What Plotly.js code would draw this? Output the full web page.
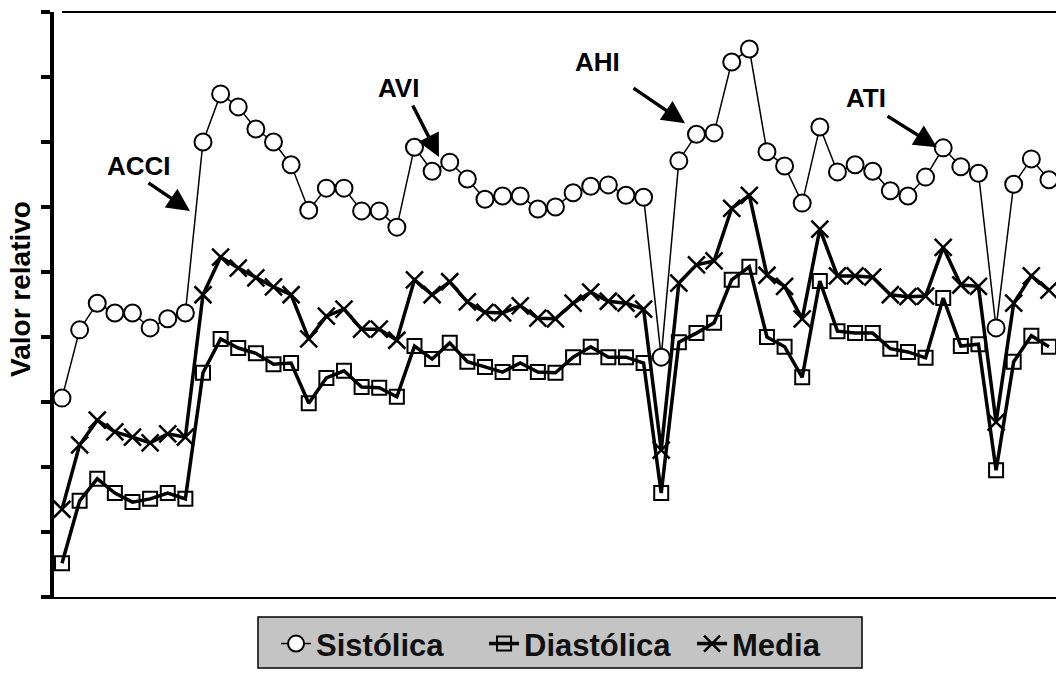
<!DOCTYPE html>
<html>
<head>
<meta charset="utf-8">
<script src="https://cdn.plot.ly/plotly-3.0.1.min.js"></script>
<style>
  html, body { margin: 0; padding: 0; background: #ffffff; }
  #chart { width: 1056px; height: 675px; }
</style>
</head>
<body>
<div id="chart"></div>
<script>
// Relative pressure values per measurement step
const sistolica = [3.06, 4.11, 4.52, 4.37, 4.37, 4.14, 4.28, 4.37, 7.00, 7.74,
  7.54, 7.20, 7.00, 6.65, 5.95, 6.29, 6.29, 5.94, 5.94, 5.69,
  6.92, 6.55, 6.69, 6.43, 6.12, 6.17, 6.17, 5.97, 6.00, 6.22,
  6.32, 6.34, 6.18, 6.15, 3.69, 6.71, 7.12, 7.14, 8.23, 8.43,
  6.85, 6.63, 6.06, 7.23, 6.54, 6.65, 6.55, 6.25, 6.17, 6.46,
  6.91, 6.62, 6.52, 4.14, 6.35, 6.74, 6.42];

const diastolica = [0.52, 1.48, 1.82, 1.60, 1.46, 1.51, 1.60, 1.51, 3.45, 3.97,
  3.83, 3.75, 3.58, 3.60, 2.98, 3.37, 3.48, 3.23, 3.22, 3.08,
  3.86, 3.66, 3.91, 3.62, 3.54, 3.46, 3.60, 3.46, 3.45, 3.69,
  3.85, 3.69, 3.69, 3.60, 1.60, 3.92, 4.06, 4.22, 4.88, 5.08,
  4.00, 3.85, 3.38, 4.86, 4.09, 4.06, 4.06, 3.82, 3.77, 3.68,
  4.60, 3.86, 3.89, 1.95, 3.62, 4.02, 3.85];

const media = [1.35, 2.34, 2.72, 2.54, 2.46, 2.37, 2.51, 2.46, 4.65, 5.23,
  5.06, 4.91, 4.77, 4.65, 3.97, 4.32, 4.43, 4.12, 4.12, 3.95,
  4.88, 4.65, 4.85, 4.54, 4.38, 4.37, 4.48, 4.29, 4.28, 4.52,
  4.69, 4.55, 4.52, 4.43, 2.26, 4.83, 5.11, 5.17, 5.98, 6.18,
  4.95, 4.78, 4.28, 5.66, 4.94, 4.94, 4.92, 4.65, 4.62, 4.63,
  5.38, 4.80, 4.78, 2.69, 4.52, 4.94, 4.72];

const steps = sistolica.map((_, i) => i);

// Event labels with the step/value their arrow points at
const eventLabels = ['ACCI', 'AVI', 'AHI', 'ATI'];
const eventTipX = [7.26, 21.39, 35.35, 49.65];
const eventTipY = [5.94, 6.77, 7.29, 6.92];
const eventTextX = [4.37, 19.12, 30.41, 45.62];
const eventTextY = [6.63, 7.83, 8.23, 7.68];
const arrowDX = [-43, -27, -53, -51];
const arrowDY = [-29, -53, -36, -32];

const baseFont = 'Liberation Sans, Arial, Helvetica, sans-serif';

const traces = [
  {
    x: steps, y: diastolica, name: 'Diastólica', type: 'scatter', mode: 'lines+markers',
    line: { color: '#000', width: 3.5 },
    marker: { symbol: 'square-open', size: 14, color: '#000', line: { width: 2, color: '#000' } },
    cliponaxis: false, legendrank: 2
  },
  {
    x: steps, y: media, name: 'Media', type: 'scatter', mode: 'lines+markers',
    line: { color: '#000', width: 3.5 },
    marker: { symbol: 'x-thin', size: 17, color: '#000', line: { width: 2.5, color: '#000' } },
    cliponaxis: false, legendrank: 3
  },
  {
    x: steps, y: sistolica, name: 'Sistólica', type: 'scatter', mode: 'lines+markers',
    line: { color: '#000', width: 1.5 },
    marker: { symbol: 'circle', size: 17, color: '#fff', line: { width: 2, color: '#000' } },
    cliponaxis: false, legendrank: 1
  }
];

const annotations = [];
eventLabels.forEach((lab, k) => {
  annotations.push({
    x: eventTipX[k], y: eventTipY[k], xref: 'x', yref: 'y', text: '',
    showarrow: true, arrowhead: 2, arrowsize: 1.3, arrowwidth: 3.5, arrowcolor: '#000',
    ax: arrowDX[k], ay: arrowDY[k], standoff: 0
  });
  annotations.push({
    x: eventTextX[k], y: eventTextY[k], xref: 'x', yref: 'y', text: lab,
    showarrow: false, xanchor: 'center', yanchor: 'middle',
    font: { family: baseFont, size: 26, weight: 'bold', color: '#000' }
  });
});
annotations.push({
  x: 0, xref: 'paper', xshift: -33, y: 4.74, yref: 'y', text: 'Valor relativo',
  textangle: -90, showarrow: false, xanchor: 'center', yanchor: 'middle',
  font: { family: baseFont, size: 28, weight: 'bold', color: '#000' }
});

const layout = {
  width: 1056, height: 675,
  margin: { l: 54, r: 0, t: 12, b: 78 },
  paper_bgcolor: '#fff', plot_bgcolor: '#fff',
  showlegend: true,
  xaxis: {
    range: [-0.454, 56.4], showgrid: false, zeroline: false,
    showline: true, linecolor: '#000', linewidth: 2,
    showticklabels: false, ticks: ''
  },
  yaxis: {
    range: [0, 9], dtick: 1, tick0: 0, showgrid: false, zeroline: false,
    showline: true, linecolor: '#000', linewidth: 4,
    ticks: 'outside', ticklen: 9, tickwidth: 4, tickcolor: '#000',
    showticklabels: false
  },
  shapes: [
    // top frame line
    { type: 'line', xref: 'x', yref: 'paper', x0: 0, x1: 56.4, y0: 1, y1: 1,
      line: { color: '#000', width: 2 } },
    // legend panel
    { type: 'rect', xref: 'paper', yref: 'paper', x0: 0.2036, x1: 0.8064, y0: -0.0342, y1: -0.1214,
      fillcolor: '#c4c4c4', line: { color: '#000', width: 1.5 }, layer: 'below' }
  ],
  legend: {
    orientation: 'h', x: 0.2216, xanchor: 'left', y: -0.034, yanchor: 'top',
    bgcolor: 'rgba(0,0,0,0)', borderwidth: 0,
    traceorder: 'normal', entrywidth: 163, entrywidthmode: 'pixels',
    font: { family: baseFont, size: 31, weight: 'bold', color: '#111' }
  },
  annotations: annotations
};

Plotly.newPlot('chart', traces, layout, { displayModeBar: false, staticPlot: true });
</script>
</body>
</html>
